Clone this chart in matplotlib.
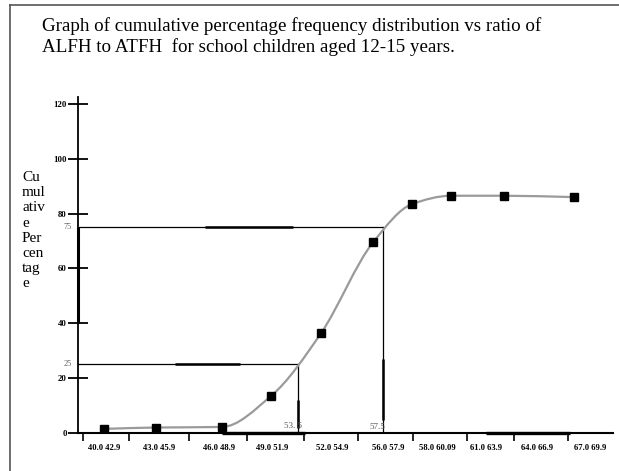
import matplotlib
matplotlib.use("Agg")
import matplotlib.pyplot as plt
from matplotlib.path import Path
from matplotlib.patches import PathPatch
from matplotlib.lines import Line2D
import numpy as np

# ---- data ----
class_labels = ["40.0 42.9", "43.0 45.9", "46.0 48.9", "49.0 51.9", "52.0 54.9",
                "56.0 57.9", "58.0 60.09", "61.0 63.9", "64.0 66.9", "67.0 69.9"]
label_pos = [0.39, 1.39, 2.5, 3.47, 4.57, 5.6, 6.5, 7.4, 8.33, 9.3]
tick_pos = [0.0, 0.85, 1.95, 3.0, 4.05, 5.05, 6.05, 7.05, 7.9, 8.9]
point_x = [0.39, 1.34, 2.55, 3.45, 4.37, 5.32, 6.04, 6.75, 7.72, 9.01]
cum_pct = [1.5, 2.0, 2.2, 13.5, 36.5, 69.5, 83.5, 86.5, 86.5, 86.0]
y_ticks = [0, 20, 40, 60, 80, 100, 120]
q1_value, q3_value = 25, 75
q1_x, q3_x = 3.94, 5.5
q1_text, q3_text = "53. 5", "57.5"

W, H = 619, 471
fig = plt.figure(figsize=(W / 100, H / 100), dpi=100)
ax = fig.add_axes([78 / W, (H - 433) / H, (613 - 78) / W, (433 - 97) / H])
ax.set_xlim(-0.09, 9.72)
ax.set_ylim(0, 122.5)

for s in ["top", "right"]:
    ax.spines[s].set_visible(False)
ax.spines["left"].set_linewidth(1.3)
ax.spines["bottom"].set_linewidth(1.5)

# y ticks
ax.set_yticks(y_ticks)
ax.set_yticklabels([str(v) for v in y_ticks], fontsize=6.3, fontweight="bold",
                   family="Liberation Serif")
ax.tick_params(axis="y", direction="inout", length=14, width=1.3, pad=1)

# x ticks: short marks at boundaries, labels at class positions
ax.set_xticks(tick_pos)
ax.set_xticklabels([])
ax.tick_params(axis="x", which="major", direction="out", length=6, width=1.2)
ax.set_xticks(label_pos, minor=True)
ax.set_xticklabels(class_labels, minor=True, fontsize=6.2, fontweight="bold",
                   family="Liberation Serif")
ax.tick_params(axis="x", which="minor", length=0, pad=8)

# smooth monotone ogive (Fritsch-Carlson tangents -> cubic Bezier)
px = np.array(point_x, float)
py = np.array(cum_pct, float)
n = len(px)
h = np.diff(px)
d = np.diff(py) / h
m = np.zeros(n)
m[0], m[-1] = d[0], d[-1]
for i in range(1, n - 1):
    if d[i - 1] * d[i] <= 0:
        m[i] = 0.0
    else:
        w1 = 2 * h[i] + h[i - 1]
        w2 = h[i] + 2 * h[i - 1]
        m[i] = (w1 + w2) / (w1 / d[i - 1] + w2 / d[i])
verts = [(px[0], py[0])]
codes = [Path.MOVETO]
for i in range(n - 1):
    c1 = (px[i] + h[i] / 3, py[i] + m[i] * h[i] / 3)
    c2 = (px[i + 1] - h[i] / 3, py[i + 1] - m[i + 1] * h[i] / 3)
    verts += [c1, c2, (px[i + 1], py[i + 1])]
    codes += [Path.CURVE4] * 3
ax.add_patch(PathPatch(Path(verts, codes), facecolor="none", edgecolor="#9a9a9a",
                       lw=1.6, zorder=3))
ax.plot(point_x, cum_pct, linestyle="none", marker="s", markersize=5.5,
        color="black", zorder=4)

# quartile reading lines
lc = "black"
ax.plot([ax.get_xlim()[0], q3_x], [q3_value, q3_value], color=lc, lw=0.9, zorder=2)
ax.plot([q3_x, q3_x], [0, q3_value], color=lc, lw=0.9, zorder=2)
ax.plot([ax.get_xlim()[0], q1_x], [q1_value, q1_value], color=lc, lw=0.9, zorder=2)
ax.plot([q1_x, q1_x], [0, q1_value], color=lc, lw=0.9, zorder=2)

# heavier stroke fragments seen in the scan
thick = dict(color="black", lw=1.8, solid_capstyle="butt", zorder=2)
ax.plot([2.24, 3.85], [q3_value, q3_value], **thick)
ax.plot([1.69, 2.88], [q1_value, q1_value], **thick)
ax.plot([q1_x, q1_x], [1.8, 12], **thick)
ax.plot([q3_x, q3_x], [4.7, 27], **thick)
ax.plot([-0.09, -0.09], [40, 75], color="black", lw=2.2, solid_capstyle="butt",
        clip_on=False, zorder=2)
ax.plot([2.55, 4.07], [0, 0], color="black", lw=2.4, solid_capstyle="butt",
        clip_on=False, zorder=2)
ax.plot([7.39, 8.94], [0, 0], color="black", lw=2.4, solid_capstyle="butt",
        clip_on=False, zorder=2)

# grey reading labels
ax.text(-0.2, q3_value, str(q3_value), fontsize=6, color="#666666", ha="right",
        va="center", family="Liberation Serif")
ax.text(-0.2, q1_value, str(q1_value), fontsize=6, color="#666666", ha="right",
        va="center", family="Liberation Serif")
ax.text(q1_x + 0.08, 1.2, q1_text, fontsize=6.5, color="#555555", ha="right",
        va="bottom", family="Liberation Serif")
ax.text(q3_x + 0.05, 0.6, q3_text, fontsize=6.5, color="#555555", ha="right",
        va="bottom", family="Liberation Serif")

# title and y label
fig.text(42 / W, 1 - 17 / H,
         "Graph of cumulative percentage frequency distribution vs ratio of\n"
         "ALFH to ATFH  for school children aged 12-15 years.",
         fontsize=13.7, family="Liberation Serif", ha="left", va="top",
         linespacing=1.25)
fig.text(22 / W, 1 - 171 / H, "Cu\nmul\nativ\ne\nPer\ncen\ntag\ne",
         fontsize=11, family="Liberation Serif", ha="left", va="top",
         linespacing=1.22)

# page frame
fig.add_artist(Line2D([10 / W, 1], [1 - 5 / H, 1 - 5 / H], color="#555555", lw=1.2))
fig.add_artist(Line2D([10 / W, 10 / W], [0, 1 - 5 / H], color="#555555", lw=1.2))

fig.savefig("out.png", dpi=100)
